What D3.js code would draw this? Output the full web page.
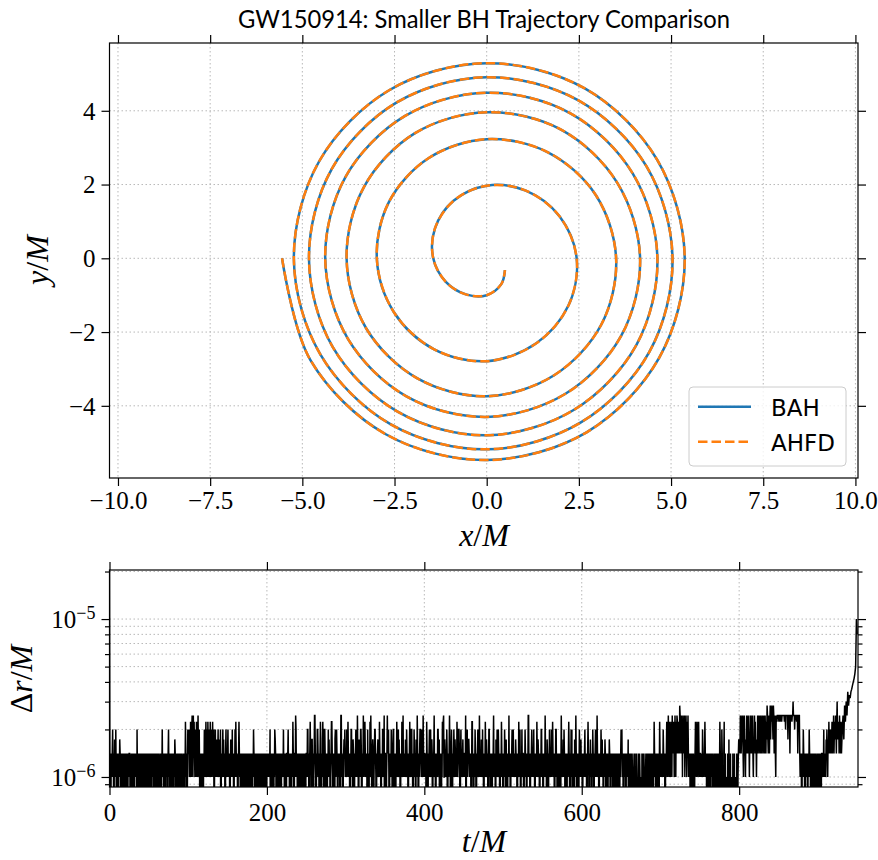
<!DOCTYPE html>
<html>
<head>
<meta charset="utf-8">
<script src="https://cdnjs.cloudflare.com/ajax/libs/d3/7.8.5/d3.min.js"></script>
<style>
body { margin: 0; background: #fff; }
svg { display: block; }
.tick text { font-family: "Liberation Serif", serif; font-size: 25px; fill: #000; }
.tick line { stroke: #000; stroke-width: 1.2; }
.grid line { stroke: #b8b8b8; stroke-width: 1; stroke-dasharray: 1.5,2.5; }
.lab { font-family: "Liberation Serif", serif; font-size: 32px; fill: #000; }
</style>
</head>
<body>
<svg width="878" height="860"></svg>
<script>
// smaller BH trajectory, polar samples (phi in degrees, r in M)
var phiDeg = [180,210,240,270,300,330,360,390,420,450,480,510,
  540,570,600,630,660,690,720,750,780,810,840,870,
  900,930,960,990,1020,1050,1080,1110,1140,1170,1200,1230,
  1260,1290,1320,1350,1380,1410,1440,1470,1500,1530,1560,1590,
  1620,1650,1680,1710,1740,1770,1800,1830,1860,1890,1920,1950,
  1980,2010,2040,2070,2100,2130,2160,2190,2220,2250,2280,2310,
  2340,2370,2400,2430,2460,2487];
var radius = [5.55,5.52,5.50,5.47,5.44,5.40,5.37,5.34,5.32,5.29,5.27,5.25,
  5.23,5.21,5.20,5.18,5.13,5.09,5.04,5.00,4.95,4.91,4.88,4.85,
  4.82,4.82,4.81,4.80,4.74,4.69,4.63,4.58,4.54,4.49,4.45,4.42,
  4.38,4.35,4.33,4.30,4.25,4.21,4.16,4.09,4.03,3.96,3.91,3.85,
  3.80,3.78,3.76,3.74,3.66,3.59,3.51,3.42,3.32,3.23,3.14,3.06,
  2.98,2.91,2.85,2.79,2.67,2.56,2.44,2.28,2.12,1.97,1.80,1.62,
  1.45,1.28,1.13,1.00,0.80,0.59];

var xTicks = [-10,-7.5,-5,-2.5,0,2.5,5,7.5,10];
var yTicks = [-4,-2,0,2,4];
var tTicks = [0,200,400,600,800];
var drMajor = [1e-6,1e-5];
var drMinor = [9e-7,2e-6,3e-6,4e-6,5e-6,6e-6,7e-6,8e-6,9e-6,2e-5];

// delta r levels seen in the picture (code 0 = exact zero, drops off the log axis)
var drLevels = [0,1.00e-6,1.41e-6,1.73e-6,2.00e-6,2.24e-6,2.45e-6,2.65e-6,2.83e-6,3.00e-6];
var drStart = 3e-5;
var dtM = 0.5;
// one code every 0.5 M, t/M = 0.5 .. 930 (25 M per row)
var drCodes = [
  "1201212412 0132141021 2012132102 1201210212 1021201212",
  "2101212021 2012121204 1210210212 0121201210 2120121021",
  "2012102121 2012120121 0212101212 0214121021 2012121024",
  "1210212012 1202132101 2120121021 2012101212 0152120142",
  "2412152146 2162521241 5212621410 2120121021 4212514215",
  "2142152141 2521402141 2131241213 2401212413 1210241212",
  "4121201312 1412102141 5212101252 1201210212 0121021201",
  "2120121021 2012142102 1201210212 0121202121 0212012102",
  "1212121402 1201210214 3210212012 1021201212 1412012102",
  "2124121021 2012152102 2164121021 2012102120 1210212012",
  "2144120125 2103312012 6621021442 1201253012 1521044201",
  "2102141312 0125521021 2034124210 2121201661 2101232412",
  "1241252121 0214412032 1021241216 2103121442 0121621252",
  "1212041202 1516210232 0124421021 2312152120 1214412602",
  "2101262341 0212142102 4401210215 2124131201 2152161212",
  "1321421202 1251214412 0214212032 1621021244 2141216212",
  "2121052102 1241241232 0212612102 1214421301 2102152561",
  "1321214201 2126210242 0121421321 2152124421 0241212312",
  "2121602141 2332121201 5512012142 1021241216 2121321412",
  "0121521321 2014412012 1021261212 0321421421 2012152120",
  "1214210312 0121612102 1241241212 1321201215 2141021412",
  "2102142120 1216612102 1241212412 0212152132 1201214412",
  "1021216212 0321021412 1241252121 0214412012 1021201621",
  "2131421021 2012125210 2141401212 0321621021 2014212312",
  "1021212412 1201252102 1312021421 0212412162 1210212142",
  "1312012132 1021201213 2102121201 2120121021 2012102124",
  "2412102121 2012121302 1210201210 0121201021 0102012100",
  "1021021210 0121020121 2012102121 0215212012 1021201521",
  "2121214212 1021252126 2152125216 2525126215 2652525286",
  "5262516252 6152621526 2121202121 0212101252 1252125212",
  "2121214212 1252121021 2012102121 2012101212 0121021201",
  "5201042010 2501201010 2103010201 0102010201 0102101232",
  "3263236362 1362313263 2362313626 2326213263 5231326362",
  "3562362536 2356263253 8632562583 6586538625 6215656666",
  "5665666566 6666566466 6663666626 6665669666 4666656626",
  "6662121201 2142120121 2120121421 2012102120 1202101212",
  "0210212012 2121412121 3242132524 2342352436 2453642593",
  "4352643252"
].join("").replace(/ /g, "");
var tailT = [931,932,933,934,935,936,937,938,939,940,941,942,943,944,945,946,947,948,949,950];
var tailDr = [2.0e-6,2.45e-6,1.73e-6,2.83e-6,2.24e-6,3.0e-6,2.45e-6,3.46e-6,2.83e-6,3.3e-6,
  3.16e-6,3.46e-6,3.6e-6,3.8e-6,4.0e-6,4.2e-6,4.5e-6,5.0e-6,10.0e-6,8.0e-6];

var traj = phiDeg.map(function(p, i) {
  var a = p * Math.PI / 180;
  return {x: radius[i] * Math.cos(a), y: radius[i] * Math.sin(a)};
});

var drData = [{t: 0, v: drStart}];
for (var i = 0; i < drCodes.length; i++) {
  drData.push({t: (i + 1) * dtM, v: drLevels[+drCodes[i]]});
}
tailT.forEach(function(t, i) { drData.push({t: t, v: tailDr[i]}); });

var svg = d3.select("svg");
var p1 = {left: 109.5, right: 858, top: 43, bottom: 478};
var p2 = {left: 109.5, right: 858, top: 570, bottom: 787};

var x1 = d3.scaleLinear().domain([-10.23, 10.07]).range([p1.left, p1.right]);
var y1 = d3.scaleLinear().domain([-5.957, 5.838]).range([p1.bottom, p1.top]);
var x2 = d3.scaleLinear().domain([0, 951]).range([p2.left, p2.right]);
var y2 = d3.scaleLog().domain([8.64e-7, 2.045e-5]).range([p2.bottom, p2.top]);

// ---------- top panel ----------
var g1 = svg.append("g");

var grid1 = g1.append("g").attr("class", "grid");
grid1.selectAll(".gx").data(xTicks).enter().append("line")
  .attr("x1", function(d) { return x1(d); }).attr("x2", function(d) { return x1(d); })
  .attr("y1", p1.top).attr("y2", p1.bottom);
grid1.selectAll(".gy").data(yTicks).enter().append("line")
  .attr("x1", p1.left).attr("x2", p1.right)
  .attr("y1", function(d) { return y1(d); }).attr("y2", function(d) { return y1(d); });

var line1 = d3.line()
  .x(function(d) { return x1(d.x); })
  .y(function(d) { return y1(d.y); })
  .curve(d3.curveCatmullRom.alpha(0.5));

g1.append("path").datum(traj)
  .attr("d", line1)
  .attr("fill", "none")
  .attr("stroke", "#1f77b4")
  .attr("stroke-width", 2.5);

g1.append("path").datum(traj)
  .attr("d", line1)
  .attr("fill", "none")
  .attr("stroke", "#ff7f0e")
  .attr("stroke-width", 2.5)
  .attr("stroke-dasharray", "9.5,4");

var ax1b = g1.append("g").attr("transform", "translate(0," + p1.bottom + ")")
  .call(d3.axisBottom(x1).tickValues(xTicks).tickSize(8).tickFormat(d3.format(".1f")));
ax1b.selectAll("text").attr("y", 31).attr("dy", 0);
g1.append("g").attr("transform", "translate(0," + p1.top + ")")
  .call(d3.axisTop(x1).tickValues(xTicks).tickSize(8).tickFormat(""));
var ax1l = g1.append("g").attr("transform", "translate(" + p1.left + ",0)")
  .call(d3.axisLeft(y1).tickValues(yTicks).tickSize(8).tickFormat(d3.format("d")));
ax1l.selectAll("text").attr("x", -14).attr("dy", "0.33em");
g1.append("g").attr("transform", "translate(" + p1.right + ",0)")
  .call(d3.axisRight(y1).tickValues(yTicks).tickSize(8).tickFormat(""));

g1.append("rect")
  .attr("x", p1.left).attr("y", p1.top)
  .attr("width", p1.right - p1.left).attr("height", p1.bottom - p1.top)
  .attr("fill", "none").attr("stroke", "#000").attr("stroke-width", 1.2);

// legend
var leg = g1.append("g");
leg.append("rect")
  .attr("x", 689).attr("y", 387).attr("width", 157).attr("height", 79).attr("rx", 4)
  .attr("fill", "#fff").attr("fill-opacity", 0.8)
  .attr("stroke", "#cccccc").attr("stroke-width", 1);
var legItems = [
  {name: "BAH", color: "#1f77b4", dash: null},
  {name: "AHFD", color: "#ff7f0e", dash: "9.5,4"}
];
legItems.forEach(function(d, i) {
  var yy = 406.7 + i * 35;
  leg.append("line")
    .attr("x1", 698).attr("x2", 751).attr("y1", yy).attr("y2", yy)
    .attr("stroke", d.color).attr("stroke-width", 2.5)
    .attr("stroke-dasharray", d.dash);
  leg.append("text")
    .attr("x", 771).attr("y", yy + 9)
    .style("font-family", "'DejaVu Sans', sans-serif")
    .style("font-size", "23px")
    .text(d.name);
});

// title and labels
svg.append("text")
  .attr("x", 484).attr("y", 28)
  .attr("text-anchor", "middle")
  .attr("textLength", 492).attr("lengthAdjust", "spacingAndGlyphs")
  .style("font-family", "Lato, 'Open Sans', sans-serif")
  .style("font-size", "25px")
  .text("GW150914: Smaller BH Trajectory Comparison");

var xl = svg.append("text").attr("class", "lab")
  .attr("x", 484).attr("y", 546).attr("text-anchor", "middle");
xl.append("tspan").style("font-style", "italic").text("x");
xl.append("tspan").text("/");
xl.append("tspan").style("font-style", "italic").text("M");

var yl = svg.append("text").attr("class", "lab")
  .attr("transform", "translate(48,260) rotate(-90)").attr("text-anchor", "middle");
yl.append("tspan").style("font-style", "italic").text("y");
yl.append("tspan").text("/");
yl.append("tspan").style("font-style", "italic").text("M");

// ---------- bottom panel ----------
var g2 = svg.append("g");

svg.append("clipPath").attr("id", "clip2").append("rect")
  .attr("x", p2.left).attr("y", p2.top)
  .attr("width", p2.right - p2.left).attr("height", p2.bottom - p2.top);

var grid2 = g2.append("g").attr("class", "grid");
grid2.selectAll(".gx").data(tTicks).enter().append("line")
  .attr("x1", function(d) { return x2(d); }).attr("x2", function(d) { return x2(d); })
  .attr("y1", p2.top).attr("y2", p2.bottom);
grid2.selectAll(".gy").data(drMajor.concat(drMinor)).enter().append("line")
  .attr("x1", p2.left).attr("x2", p2.right)
  .attr("y1", function(d) { return y2(d); }).attr("y2", function(d) { return y2(d); });

var line2 = d3.line()
  .x(function(d) { return x2(d.t); })
  .y(function(d) { return y2(d.v > 0 ? d.v : 1e-7); });

g2.append("path").datum(drData)
  .attr("clip-path", "url(#clip2)")
  .attr("d", line2)
  .attr("fill", "none")
  .attr("stroke", "#000")
  .attr("stroke-width", 1.5)
  .attr("stroke-linejoin", "miter");

var ax2b = g2.append("g").attr("transform", "translate(0," + p2.bottom + ")")
  .call(d3.axisBottom(x2).tickValues(tTicks).tickSize(8).tickFormat(d3.format("d")));
ax2b.selectAll("text").attr("y", 34).attr("dy", 0);
g2.append("g").attr("transform", "translate(0," + p2.top + ")")
  .call(d3.axisTop(x2).tickValues(tTicks).tickSize(8).tickFormat(""));

var ax2l = g2.append("g").attr("transform", "translate(" + p2.left + ",0)")
  .call(d3.axisLeft(y2).tickValues(drMajor).tickSize(8).tickFormat(""));
g2.append("g").attr("transform", "translate(" + p2.left + ",0)")
  .call(d3.axisLeft(y2).tickValues(drMinor).tickSize(4.5).tickFormat(""));
g2.append("g").attr("transform", "translate(" + p2.right + ",0)")
  .call(d3.axisRight(y2).tickValues(drMajor).tickSize(8).tickFormat(""));
g2.append("g").attr("transform", "translate(" + p2.right + ",0)")
  .call(d3.axisRight(y2).tickValues(drMinor).tickSize(4.5).tickFormat(""));

ax2l.selectAll(".tick").each(function(d) {
  var txt = d3.select(this).append("text")
    .attr("x", -14).attr("y", 0).attr("dy", "0.33em")
    .attr("text-anchor", "end");
  txt.append("tspan").text("10");
  txt.append("tspan").attr("dy", "-0.5em").style("font-size", "18px")
    .text("\u2212" + Math.round(-Math.log10(d)));
});

g2.selectAll(".domain").remove();
g1.selectAll(".domain").remove();

g2.append("rect")
  .attr("x", p2.left).attr("y", p2.top)
  .attr("width", p2.right - p2.left).attr("height", p2.bottom - p2.top)
  .attr("fill", "none").attr("stroke", "#000").attr("stroke-width", 1.2);

var tl = svg.append("text").attr("class", "lab")
  .attr("x", 484).attr("y", 852).attr("text-anchor", "middle");
tl.append("tspan").style("font-style", "italic").text("t");
tl.append("tspan").text("/");
tl.append("tspan").style("font-style", "italic").text("M");

var rl = svg.append("text").attr("class", "lab")
  .attr("transform", "translate(32,679) rotate(-90)").attr("text-anchor", "middle");
rl.append("tspan").text("\u0394");
rl.append("tspan").style("font-style", "italic").text("r");
rl.append("tspan").text("/");
rl.append("tspan").style("font-style", "italic").text("M");
</script>
</body>
</html>
